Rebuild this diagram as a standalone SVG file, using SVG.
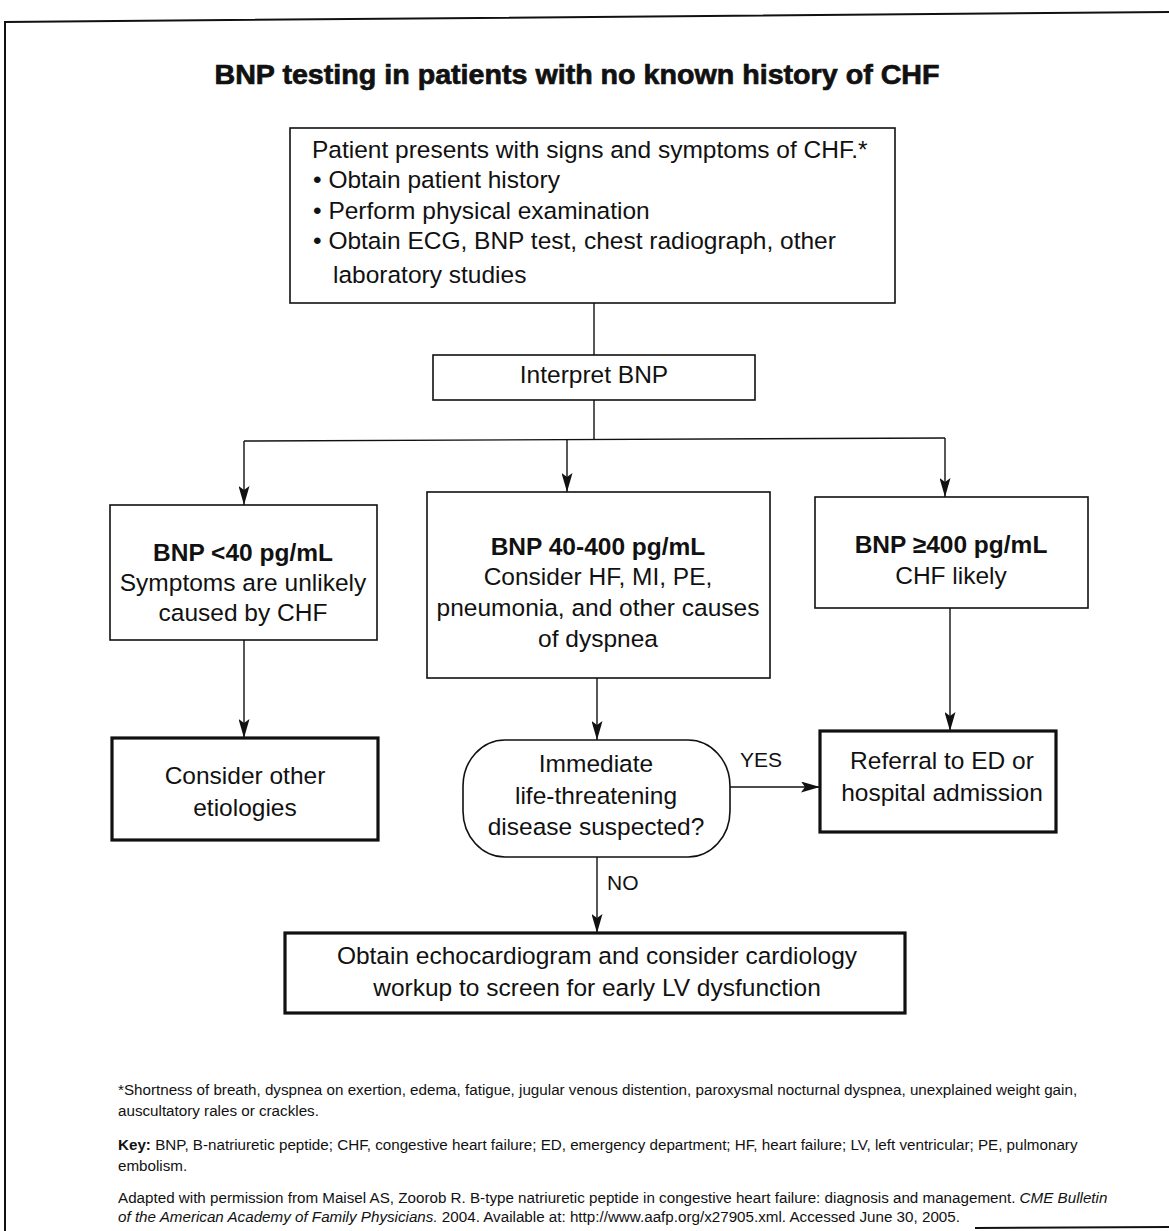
<svg xmlns="http://www.w3.org/2000/svg" width="1169" height="1231" viewBox="0 0 1169 1231">
<style>
.t{font-family:"Liberation Sans",Arial,sans-serif;font-size:24.5px;fill:#111}
.c{text-anchor:middle}
.b{font-weight:bold}
.box{fill:#fff;stroke:#111;stroke-width:1.6}
.thick{fill:#fff;stroke:#111;stroke-width:3.2}
.ln{fill:none;stroke:#111;stroke-width:1.4}
.lbl{font-family:"Liberation Sans",Arial,sans-serif;font-size:21px;fill:#111}
.fn{font-family:"Liberation Sans",Arial,sans-serif;font-size:15.2px;fill:#111}
</style>
<defs>
<marker id="ah" markerUnits="userSpaceOnUse" markerWidth="19" markerHeight="11" refX="19" refY="5.5" orient="auto" viewBox="0 0 19 11">
<path d="M0,0 L19,5.5 L0,11 L4,5.5 Z" fill="#111"/>
</marker>
</defs>
<rect width="1169" height="1231" fill="#fff"/>
<g id="frame" fill="none" stroke="#111" stroke-width="2">
<polyline points="5,1231 5,22 1169,12"/>
<line x1="975" y1="1228" x2="1169" y2="1227"/>
</g>
<text id="title" class="t b c" x="577" y="84" style="font-size:28px;stroke:#111;stroke-width:0.7" textLength="725" lengthAdjust="spacingAndGlyphs">BNP testing in patients with no known history of CHF</text>
<g id="connectors">
<line class="ln" x1="594" y1="303" x2="594" y2="355"/>
<line class="ln" x1="594" y1="400" x2="594" y2="440"/>
<line class="ln" x1="244" y1="441" x2="945" y2="438"/>
<line class="ln" x1="244" y1="441" x2="244" y2="505" marker-end="url(#ah)"/>
<line class="ln" x1="567" y1="440" x2="567" y2="492" marker-end="url(#ah)"/>
<line class="ln" x1="945" y1="438" x2="945" y2="497" marker-end="url(#ah)"/>
<line class="ln" x1="244" y1="640" x2="244" y2="738" marker-end="url(#ah)"/>
<line class="ln" x1="597" y1="678" x2="597" y2="740" marker-end="url(#ah)"/>
<line class="ln" x1="950" y1="608" x2="950" y2="731" marker-end="url(#ah)"/>
<line class="ln" x1="730" y1="787" x2="820" y2="787" marker-end="url(#ah)"/>
<line class="ln" x1="597" y1="857" x2="597" y2="933" marker-end="url(#ah)"/>
<text class="lbl" x="740" y="767">YES</text>
<text class="lbl" x="607" y="890">NO</text>
</g>
<g id="n-start">
<rect class="box" x="290" y="128" width="605" height="175"/>
<text class="t" x="312" y="158">Patient presents with signs and symptoms of CHF.*</text>
<text class="t" x="313" y="188">• Obtain patient history</text>
<text class="t" x="313" y="219">• Perform physical examination</text>
<text class="t" x="313" y="249">• Obtain ECG, BNP test, chest radiograph, other</text>
<text class="t" x="333" y="283">laboratory studies</text>
</g>
<g id="n-interpret">
<rect class="box" x="433" y="355" width="322" height="45"/>
<text class="t c" x="594" y="383">Interpret BNP</text>
</g>
<g id="n-low">
<rect class="box" x="110" y="505" width="267" height="135"/>
<text class="t c b" x="243" y="561">BNP &lt;40 pg/mL</text>
<text class="t c" x="243" y="591">Symptoms are unlikely</text>
<text class="t c" x="243" y="621">caused by CHF</text>
</g>
<g id="n-mid">
<rect class="box" x="427" y="492" width="343" height="186"/>
<text class="t c b" x="598" y="555">BNP 40-400 pg/mL</text>
<text class="t c" x="598" y="585">Consider HF, MI, PE,</text>
<text class="t c" x="598" y="616">pneumonia, and other causes</text>
<text class="t c" x="598" y="647">of dyspnea</text>
</g>
<g id="n-high">
<rect class="box" x="815" y="497" width="273" height="111"/>
<text class="t c b" x="951" y="553">BNP ≥400 pg/mL</text>
<text class="t c" x="951" y="584">CHF likely</text>
</g>
<g id="n-other">
<rect class="thick" x="112" y="738" width="266" height="102"/>
<text class="t c" x="245" y="784">Consider other</text>
<text class="t c" x="245" y="816">etiologies</text>
</g>
<g id="n-decision">
<rect class="box" x="463" y="740" width="267" height="117" rx="42" ry="46"/>
<text class="t c" x="596" y="772">Immediate</text>
<text class="t c" x="596" y="804">life-threatening</text>
<text class="t c" x="596" y="835">disease suspected?</text>
</g>
<g id="n-referral">
<rect class="thick" x="820" y="731" width="236" height="101"/>
<text class="t c" x="942" y="769">Referral to ED or</text>
<text class="t c" x="942" y="801">hospital admission</text>
</g>
<g id="n-echo">
<rect class="thick" x="285" y="933" width="620" height="80"/>
<text class="t c" x="597" y="964">Obtain echocardiogram and consider cardiology</text>
<text class="t c" x="597" y="996">workup to screen for early LV dysfunction</text>
</g>
<g id="footnotes">
<text class="fn" x="118" y="1095">*Shortness of breath, dyspnea on exertion, edema, fatigue, jugular venous distention, paroxysmal nocturnal dyspnea, unexplained weight gain,</text>
<text class="fn" x="118" y="1116">auscultatory rales or crackles.</text>
<text class="fn" x="118" y="1150"><tspan font-weight="bold">Key:</tspan> BNP, B-natriuretic peptide; CHF, congestive heart failure; ED, emergency department; HF, heart failure; LV, left ventricular; PE, pulmonary</text>
<text class="fn" x="118" y="1171">embolism.</text>
<text class="fn" x="118" y="1203">Adapted with permission from Maisel AS, Zoorob R. B-type natriuretic peptide in congestive heart failure: diagnosis and management. <tspan font-style="italic">CME Bulletin</tspan></text>
<text class="fn" x="118" y="1222"><tspan font-style="italic">of the American Academy of Family Physicians.</tspan> 2004. Available at: http://www.aafp.org/x27905.xml. Accessed June 30, 2005.</text>
</g>
</svg>
